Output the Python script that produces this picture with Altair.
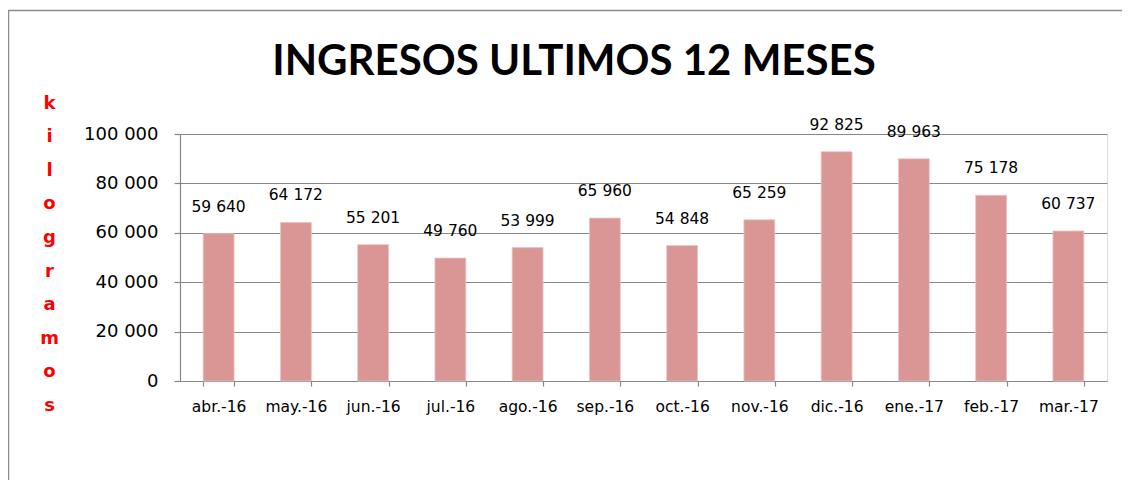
import altair as alt
import pandas as pd

months = ["abr.-16", "may.-16", "jun.-16", "jul.-16", "ago.-16", "sep.-16",
          "oct.-16", "nov.-16", "dic.-16", "ene.-17", "feb.-17", "mar.-17"]
kilos = [59640, 64172, 55201, 49760, 53999, 65960,
         54848, 65259, 92825, 89963, 75178, 60737]
y_ticks = [0, 20000, 40000, 60000, 80000, 100000]
title_text = "INGRESOS ULTIMOS 12 MESES"
y_title = ["k", "i", "l", "o", "g", "r", "a", "m", "o", "s"]

df = pd.DataFrame({"mes": months, "kg": kilos})

GRID = "#878787"
fmt = "replace(format(datum.value, ',d'), /,/g, ' ')"

base = alt.Chart(df).encode(
    x=alt.X("mes:N", sort=months,
            scale=alt.Scale(paddingInner=0.6, paddingOuter=0.3),
            axis=alt.Axis(title=None, labelAngle=0, labelFont="DejaVu Sans",
                          labelFontSize=15.5, labelColor="#000000",
                          labelPadding=13, tickSize=5, tickBand="extent",
                          tickColor=GRID, domainColor=GRID, tickWidth=1.2,
                          domainWidth=1.2, grid=False)),
)

bars = base.mark_bar(color="#D99694", stroke="#EBC4C3", strokeWidth=0.8).encode(
    y=alt.Y("kg:Q", scale=alt.Scale(domain=[0, 100000], nice=False),
            axis=alt.Axis(values=y_ticks, labelExpr=fmt, labelFont="DejaVu Sans",
                          labelFontSize=18, labelColor="#000000", labelPadding=16,
                          tickSize=6, tickColor=GRID, gridColor=GRID, gridWidth=1.2,
                          domainColor=GRID, domainWidth=1.2, tickWidth=1.2,
                          title=y_title, titleAngle=0, titleX=-131, titleY=-31,
                          titleBaseline="middle", titleAlign="center",
                          titleLineHeight=33.6, titleFontSize=18,
                          titleFontWeight="bold", titleColor="#FF0000",
                          titleFont="DejaVu Sans")),
)

labels = base.transform_calculate(
    lbl="replace(format(datum.kg, ',d'), /,/g, ' ')"
).mark_text(font="DejaVu Sans", fontSize=15.5, color="#000000",
            baseline="alphabetic", dy=-22).encode(
    y=alt.Y("kg:Q"),
    text="lbl:N",
)

one = pd.DataFrame({"a": [0]})
title = alt.Chart(one).mark_text(text=title_text, font="Lato", fontSize=42,
                                 fontWeight="bold", color="#000000",
                                 align="center", baseline="alphabetic").encode(
    x=alt.value(394), y=alt.value(-59))
frame_top = alt.Chart(one).mark_rule(color="#8C8C8C", strokeWidth=1.5).encode(
    x=alt.value(-172), x2=alt.value(950), y=alt.value(-123.5))
frame_left = alt.Chart(one).mark_rule(color="#8C8C8C", strokeWidth=1.5).encode(
    x=alt.value(-171.5), y=alt.value(-124), y2=alt.value(360))

chart = alt.layer(bars, labels, title, frame_top, frame_left).properties(
    width=927, height=247,
    autosize="none",
    padding={"left": 172, "top": 126, "right": 15, "bottom": 99},
).configure_view(strokeOpacity=0).configure(background="#FFFFFF")

chart.save("out.html", embed_options={"renderer": "svg", "actions": False})
